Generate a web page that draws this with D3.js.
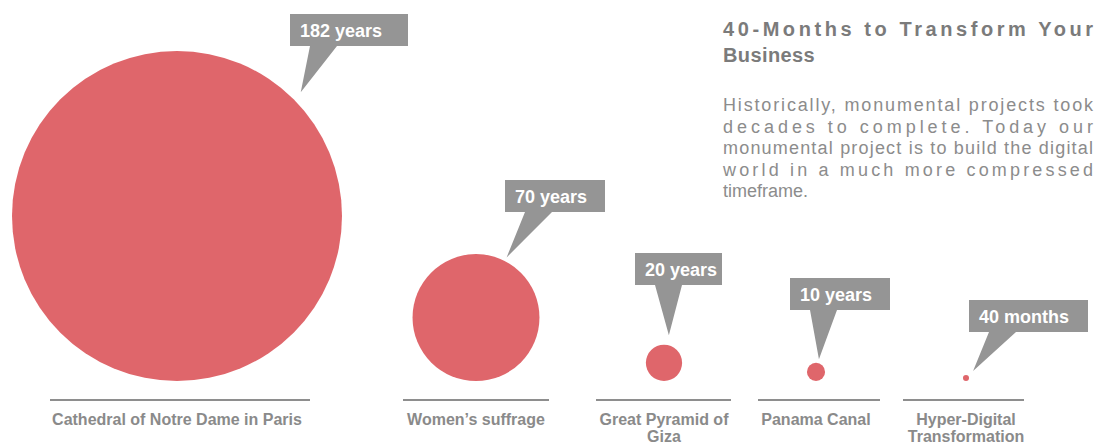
<!DOCTYPE html>
<html>
<head>
<meta charset="utf-8">
<script src="https://cdn.jsdelivr.net/npm/d3@7"></script>
<style>
  body { margin: 0; background: #fff; }
  svg { display: block; font-family: "Liberation Sans", Arial, sans-serif; }
</style>
</head>
<body>
<svg id="chart" width="1097" height="444"></svg>
<script>
// data
const projects = ["Cathedral of Notre Dame in Paris", "Women\u2019s suffrage", "Great Pyramid of Giza", "Panama Canal", "Hyper-Digital Transformation"];
const durations = [182, 70, 20, 10, 40];
const units = ["years", "years", "years", "years", "months"];
const titleLines = ["40-Months to Transform Your", "Business"];
const bodyLines = [
  "Historically, monumental projects took",
  "decades to complete. Today our",
  "monumental project is to build the digital",
  "world in a much more compressed",
  "timeframe."
];

// layout
const baseY = 381;     // circles sit on this
const ruleY = 400;
const circleColor = "#df666b";
const calloutColor = "#959595";

const svg = d3.select("#chart");

const years = durations.map((d, i) => units[i] === "months" ? d / 12 : d);

const x = d3.scaleOrdinal().domain(projects).range([177, 476, 664, 816, 966]);
const ruleL = d3.scaleOrdinal().domain(projects).range([50, 403, 596, 758, 903]);
const ruleR = d3.scaleOrdinal().domain(projects).range([310, 549, 731, 880, 1024]);
const r = d3.scaleLinear().domain([0, 182]).range([0, 165]);

// callout placement: box offset from circle centre, box top, width, tip angle, tip gap
const callouts = [
  { dx: 113, top: 14, w: 118, ang: 45, gap: 10 },
  { dx: 29, top: 180, w: 100, ang: 63, gap: 4 },
  { dx: -29, top: 253, w: 87, ang: 80, gap: 10 },
  { dx: -26, top: 278, w: 100, ang: 77, gap: 4 },
  { dx: 3, top: 300, w: 119, ang: 45, gap: 7 }
];

const rows = projects.map((p, i) => ({
  name: p, years: years[i], label: durations[i] + " " + units[i], c: callouts[i]
}));

// circles
svg.append("g").selectAll("circle")
  .data(rows).join("circle")
  .attr("cx", d => x(d.name))
  .attr("cy", d => baseY - r(d.years))
  .attr("r", d => r(d.years))
  .attr("fill", circleColor);

// rules under each circle
svg.append("g").selectAll("line")
  .data(rows).join("line")
  .attr("x1", d => ruleL(d.name))
  .attr("x2", d => ruleR(d.name))
  .attr("y1", ruleY).attr("y2", ruleY)
  .attr("stroke", "#8e8e8e").attr("stroke-width", 2);

// category labels, wrapped to rule width
const labels = svg.append("g").selectAll("text")
  .data(rows).join("text")
  .attr("x", d => x(d.name))
  .attr("y", 425)
  .attr("text-anchor", "middle")
  .attr("font-size", 16)
  .attr("font-weight", "bold")
  .attr("fill", "#8a8a8a");

labels.each(function(d) {
  const t = d3.select(this);
  const words = d.name.split(" ");
  const maxW = ruleR(d.name) - ruleL(d.name);
  let line = [];
  let tspan = t.append("tspan").attr("x", x(d.name)).attr("dy", 0);
  words.forEach(w => {
    line.push(w);
    tspan.text(line.join(" "));
    if (tspan.node().getComputedTextLength() > maxW && line.length > 1) {
      line.pop();
      tspan.text(line.join(" "));
      line = [w];
      tspan = t.append("tspan").attr("x", x(d.name)).attr("dy", 17).text(w);
    }
  });
});

// callouts
const cg = svg.append("g").selectAll("g")
  .data(rows).join("g");

cg.append("path")
  .attr("fill", calloutColor)
  .attr("d", d => {
    const cx = x(d.name), cy = baseY - r(d.years);
    const a = d.c.ang * Math.PI / 180;
    const dist = r(d.years) + d.c.gap;
    const tx = cx + dist * Math.cos(a), ty = cy - dist * Math.sin(a);
    const bx = cx + d.c.dx, by = d.c.top, bh = 32;
    return `M${bx},${by}H${bx + d.c.w}V${by + bh}H${bx + 47}L${tx},${ty}L${bx + 20},${by + bh}H${bx}Z`;
  });

cg.append("text")
  .attr("x", d => x(d.name) + d.c.dx + 10)
  .attr("y", d => d.c.top + 23)
  .attr("font-size", 18)
  .attr("font-weight", "bold")
  .attr("fill", "#fff")
  .text(d => d.label);

// title + body text, justified
const tx0 = 723, tw = 370;
svg.append("g").selectAll("text")
  .data(titleLines).join("text")
  .attr("x", tx0)
  .attr("y", (d, i) => 36 + i * 26)
  .attr("font-size", 20)
  .attr("font-weight", "bold")
  .attr("fill", "#7b7b7b")
  .attr("letter-spacing", (d, i) => i === titleLines.length - 1 ? 0.4 : null)
  .attr("textLength", (d, i) => i < titleLines.length - 1 ? tw : null)
  .attr("lengthAdjust", "spacing")
  .text(d => d);

svg.append("g").selectAll("text")
  .data(bodyLines).join("text")
  .attr("x", tx0)
  .attr("y", (d, i) => 111 + i * 21.5)
  .attr("font-size", 18)
  .attr("fill", "#8c8c8c")
  .attr("textLength", (d, i) => i < bodyLines.length - 1 ? tw : null)
  .attr("lengthAdjust", "spacing")
  .text(d => d);
</script>
</body>
</html>
